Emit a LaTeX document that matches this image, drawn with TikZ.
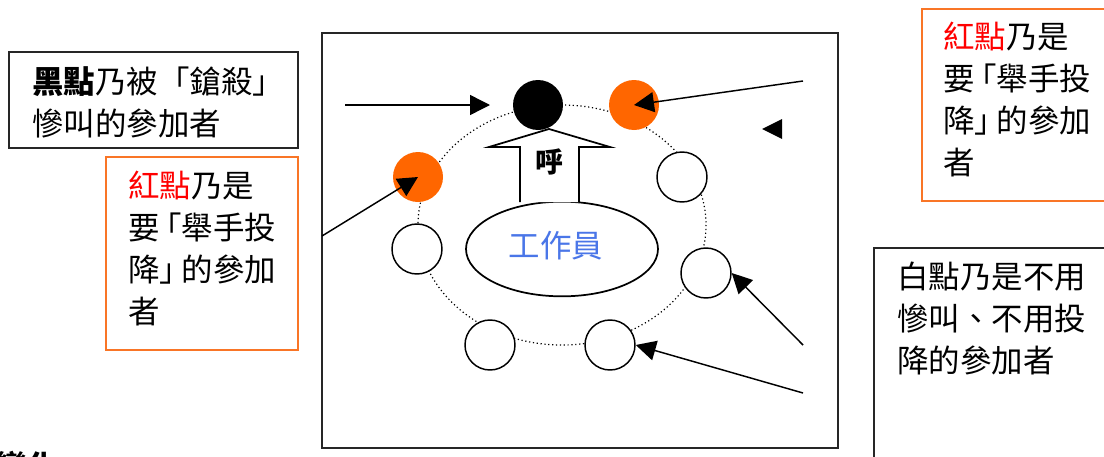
\documentclass[tikz,border=0pt]{standalone}
\usepackage{fontspec}
\newfontfamily\cjk{Noto Sans CJK TC}
\usetikzlibrary{arrows.meta,shapes.geometric}
\definecolor{dotorange}{HTML}{FF6600}
\definecolor{boxorange}{HTML}{F97526}
\definecolor{redtxt}{HTML}{FF0000}
\definecolor{bluetxt}{HTML}{4A76E8}
\tikzset{
  frame/.style={draw=black!85, line width=1.5pt},
  obox/.style={draw=boxorange, line width=1.3pt},
  txt/.style={anchor=north west, inner sep=0pt, align=left, font=\cjk\fontsize{23.6}{31.5}\selectfont},
  dot/.style={circle, minimum size=37.5pt, inner sep=0pt},
  wdot/.style={dot, draw, line width=1.1pt, fill=white},
  odot/.style={dot, fill=dotorange},
  bdot/.style={dot, fill=black},
  pointer/.style={line width=1.1pt, -{Triangle[length=15pt,width=15pt]}},
}
\begin{document}
\begin{tikzpicture}[x=0.75pt,y=-0.75pt]
\useasboundingbox (0,0) rectangle (1104,457);
% main frame
\draw[frame] (322,33) rectangle (838,448);
% left black box
\draw[frame] (9,52) rectangle (298,148);
\node[txt] (t1) at (32,66) {\textbf{黑點}乃被「鎗殺」\\慘叫的參加者};
% left orange box
\draw[obox] (106,157) rectangle (298,350);
\node[txt] (t2) at (128,171) {\textcolor{redtxt}{紅點}乃是\\要\kern-0.3em「舉手投\\降」\kern-0.3em的參加\\者};
% right orange box
\draw[obox] (922,9) rectangle (1110,201);
\node[txt] (t3) at (943,22) {\textcolor{redtxt}{紅點}乃是\\要\kern-0.3em「舉手投\\降」\kern-0.3em的參加\\者};
% right black box
\draw[frame] (874,248) rectangle (1110,470);
\node[txt] (t4) at (897,262) {白點乃是不用\\慘叫、不用投\\降的參加者};
% bottom-left clipped title
\node[anchor=base west, inner sep=0pt, font=\cjk\bfseries\fontsize{23.6}{31.5}\selectfont] (t5) at (-4,478) {變化};
% dotted ring
\draw[dotted, line width=0.9pt] (562,225) ellipse [x radius=144, y radius=120];
% staff ellipse
\node[draw, ellipse, line width=1.3pt, minimum width=144pt, minimum height=71pt, inner sep=0pt, fill=white] (staff) at (562,249) {};
\node[font=\cjk\fontsize{23.6}{31.5}\selectfont, text=bluetxt, inner sep=0pt] (stafftxt) at (556,246) {工作員};
% block arrow
\draw[line width=1.3pt, fill=white] (520,202) -- (520,147) -- (489,147) -- (549,129) -- (610,147) -- (579,147) -- (579,202);
\node[font=\cjk\bfseries\fontsize{21}{25}\selectfont, inner sep=0pt] (call) at (549,162) {呼};
% participants
\node[bdot] (b1) at (538,105) {};
\node[odot] (o1) at (634,105) {};
\node[odot] (o2) at (418,177) {};
\node[wdot] (w1) at (682,177) {};
\node[wdot] (w2) at (417,249) {};
\node[wdot] (w3) at (706,273) {};
\node[wdot] (w4) at (490,345) {};
\node[wdot] (w5) at (610,345) {};
% arrows
\coordinate (a1s) at (345,105);
\coordinate (a1e) at (490,105);
\coordinate (a2s) at (803,81);
\coordinate (a4s) at (322,236);
\coordinate (a5s) at (803,345);
\coordinate (a6s) at (803,393);
\draw[pointer] (a1s) -- (a1e);
\draw[pointer] (a2s) -- (o1.center);
\draw[pointer] (a4s) -- (o2.center);
\draw[pointer] (a5s) -- (w3.east);
\draw[pointer] (a6s) -- (w5.east);
% lone arrowhead
\coordinate (lt) at (762,129);
\fill (lt) -- (782,119) -- (782,139) -- cycle;
\end{tikzpicture}
\end{document}
